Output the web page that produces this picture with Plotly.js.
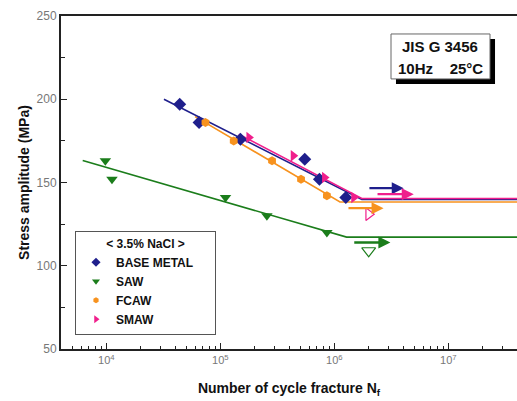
<!DOCTYPE html>
<html><head><meta charset="utf-8">
<script src="https://cdn.plot.ly/plotly-3.0.1.min.js"></script>
<style>html,body{margin:0;padding:0;background:#fff}#chart{width:517px;height:401px}</style>
</head><body><div id="chart"></div>
<script>
// ---- data ----
const baseN = [4.4e4, 6.5e4, 1.5e5, 5.5e5, 7.4e5, 1.26e6];
const baseS = [197, 186, 176, 164, 152, 141];
const sawN  = [9.8e3, 1.12e4, 1.11e5, 2.56e5, 8.6e5];
const sawS  = [163, 152, 141, 130, 120];
const fcawN = [7.4e4, 1.31e5, 2.84e5, 5.1e5, 8.6e5];
const fcawS = [186, 175, 163, 152, 142];
const smawN = [1.78e5, 4.36e5, 8.2e5, 1.48e6];
const smawS = [177, 166, 153, 141];
// run-out (open) points
const smawRunN = [2.0e6]; const smawRunS = [131];
const sawRunN  = [2.0e6]; const sawRunS  = [109];
// fitted S-N lines (start, knee, end)
const baseFitN = [3.2e4, 1.74e6, 4e7]; const baseFitS = [200, 139.8, 139.8];
const smawFitN = [1.45e5, 1.74e6, 4e7]; const smawFitS = [179, 140.4, 140.4];
const fcawFitN = [6.0e4, 1.12e6, 4e7]; const fcawFitS = [189.6, 138.3, 138.3];
const sawFitN  = [6.2e3, 1.28e6, 4e7]; const sawFitS  = [163.2, 117.2, 117.2];
// run-out arrows: start N, end N, stress
const arrowStartN = [1.97e6, 2.32e6, 1.29e6, 1.45e6];
const arrowEndN   = [4.06e6, 4.97e6, 2.7e6, 3.1e6];
const arrowS      = [146.6, 143, 134.6, 114];
const seriesNames = ['BASE METAL', 'SAW', 'FCAW', 'SMAW'];
const xTickVals = [1e4, 1e5, 1e6, 1e7];
const xTickText = ['10<sup>4</sup>', '10<sup>5</sup>', '10<sup>6</sup>', '10<sup>7</sup>'];

const C = {base:'#1f1f8c', saw:'#1b7d1b', fcaw:'#f7921e', smaw:'#f01f8c'};
const arrowColors = [C.base, C.smaw, C.fcaw, C.saw];
const FONT = 'Arial, "Liberation Sans", sans-serif';
const PAD = '\u00a0'.repeat(5);

function fit(n, s, col){ return {x:n, y:s, mode:'lines', line:{color:col, width:1.6}, showlegend:false, hoverinfo:'skip'}; }
function pts(n, s, col, sym, size){ return {x:n, y:s, mode:'markers', showlegend:false, marker:{color:col, symbol:sym, size:size}}; }
function leg(col, sym, size, name){ return {x:[null], y:[null], mode:'markers', name:name, showlegend:true, marker:{color:col, symbol:sym, size:size}}; }

const traces = [
  fit(sawFitN, sawFitS, C.saw),
  fit(fcawFitN, fcawFitS, C.fcaw),
  fit(baseFitN, baseFitS, C.base),
  fit(smawFitN, smawFitS, C.smaw),
  pts(baseN, baseS, C.base, 'diamond', 10),
  pts(sawN, sawS, C.saw, 'triangle-down', 10),
  pts(fcawN, fcawS, C.fcaw, 'hexagon', 9),
  pts(smawN, smawS, C.smaw, 'triangle-right', 10),
  {x:smawRunN, y:smawRunS, mode:'markers', showlegend:false, marker:{symbol:'triangle-right-open', size:11, color:C.smaw, line:{width:1.2}}},
  {x:sawRunN, y:sawRunS, mode:'markers', showlegend:false, marker:{symbol:'triangle-down-open', size:12, color:C.saw, line:{width:1.2}}},
  leg(C.base, 'diamond', 7, seriesNames[0] + PAD),
  leg(C.saw, 'triangle-down', 7, seriesNames[1]),
  leg(C.fcaw, 'hexagon', 6, seriesNames[2]),
  leg(C.smaw, 'triangle-right', 7, seriesNames[3])
];

const annotations = arrowS.map((s,i)=>({
  x:Math.log10(arrowEndN[i]), y:s, ax:Math.log10(arrowStartN[i]), ay:s,
  xref:'x', yref:'y', axref:'x', ayref:'y', text:'', showarrow:true,
  arrowhead:2, arrowsize:1, arrowwidth:2.4, arrowcolor:arrowColors[i]
}));
annotations.push({xref:'paper', yref:'paper', x:0.8322, y:0.907, xanchor:'center', yanchor:'middle', text:'<b>JIS G 3456</b>', showarrow:false, font:{family:FONT, size:15, color:'#111'}});
annotations.push({xref:'paper', yref:'paper', x:0.8322, y:0.842, xanchor:'center', yanchor:'middle', text:'<b>10Hz\u00a0\u00a0\u00a0\u00a025°C</b>', showarrow:false, font:{family:FONT, size:15, color:'#111'}});

const layout = {
  width:517, height:401,
  margin:{l:61, r:0, t:16, b:52},
  paper_bgcolor:'#fff', plot_bgcolor:'rgba(0,0,0,0)',
  font:{family:FONT, color:'#111'},
  xaxis:{
    type:'log', range:[Math.log10(4e3), Math.log10(4e7)],
    tickvals:xTickVals, ticktext:xTickText,
    ticks:'inside', ticklen:6, tickwidth:1.2, tickcolor:'#222',
    minor:{ticks:'inside', ticklen:3, tickwidth:1, tickcolor:'#222', dtick:'D1', showgrid:false},
    showgrid:false, zeroline:false,
    showline:true, linecolor:'#222', linewidth:2, mirror:true,
    tickfont:{family:FONT, size:11, color:'#777'},
    title:{text:'<b>Number of cycle fracture N<sub>f</sub></b>', font:{family:FONT, size:14, color:'#111'}, standoff:18}
  },
  yaxis:{
    range:[50,250], dtick:50, tick0:50,
    ticks:'inside', ticklen:6, tickwidth:1.2, tickcolor:'#222',
    minor:{ticks:'inside', ticklen:4, tickwidth:1, tickcolor:'#222', dtick:25, showgrid:false},
    showgrid:false, zeroline:false,
    showline:true, linecolor:'#222', linewidth:2,
    tickfont:{family:FONT, size:12, color:'#777'},
    title:{text:'<b>Stress amplitude (MPa)</b>', font:{family:FONT, size:14, color:'#111'}, standoff:4}
  },
  showlegend:true,
  legend:{
    x:0.0307, y:0.354, xanchor:'left', yanchor:'top',
    bgcolor:'#fff', bordercolor:'#555', borderwidth:1,
    font:{family:FONT, size:12, color:'#111', weight:'bold'},
    title:{text:'< 3.5% NaCl >', side:'top center', font:{family:FONT, size:12, color:'#111'}},
    tracegroupgap:0, itemclick:false, itemsizing:'trace'
  },
  shapes:[
    {type:'rect', layer:'below', xref:'paper', yref:'paper', x0:0.7346, x1:0.9518, y0:0.796, y1:0.931, fillcolor:'#000', line:{width:0}},
    {type:'rect', layer:'below', xref:'paper', yref:'paper', x0:0.7237, x1:0.9408, y0:0.811, y1:0.946, fillcolor:'#fff', line:{color:'#666', width:1}}
  ],
  annotations:annotations
};

Plotly.newPlot('chart', traces, layout, {staticPlot:true, displayModeBar:false});
</script></body></html>
